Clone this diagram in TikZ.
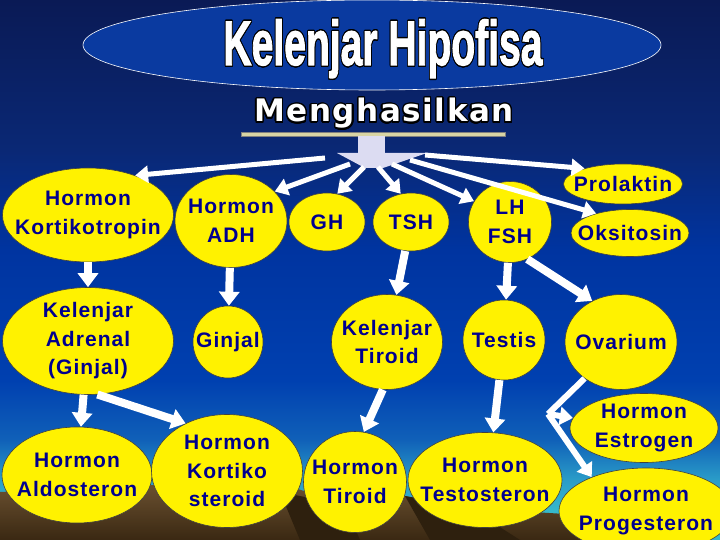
\documentclass[tikz,border=0pt]{standalone}
\usepackage{fontspec}
\setmainfont{Liberation Sans}
\newfontfamily\labelfont{Liberation Sans}[LetterSpace=5]
\newfontfamily\titlefont{Liberation Sans}[FakeBold=2]
\newfontfamily\subfont{DejaVu Sans}[LetterSpace=5]
\usepackage[copies]{contour}
\contourlength{1.3pt}
\contournumber{20}
\usetikzlibrary{shapes.geometric,arrows.meta}

\definecolor{navytext}{HTML}{00008E}
\definecolor{titleblue}{HTML}{0A3AA0}
\definecolor{barfill}{HTML}{D8D4A4}
\definecolor{hubfill}{HTML}{DCDCF2}
\definecolor{skytop}{HTML}{0A1A55}
\definecolor{skyhi}{HTML}{0A2875}
\definecolor{skymid}{HTML}{0034A0}
\definecolor{skydeep}{HTML}{0040B0}
\definecolor{skylow}{HTML}{1060B8}
\definecolor{skyrim}{HTML}{2A9CC8}
\definecolor{horizon}{HTML}{35B8CC}
\definecolor{groundhi}{HTML}{6A5030}
\definecolor{groundlo}{HTML}{3A2812}
\definecolor{grounddk}{HTML}{2E200E}

\pgfdeclareverticalshading{sky}{100bp}{color(0bp)=(horizon); color(27.8bp)=(horizon);
  color(30.6bp)=(skyrim); color(34.3bp)=(skylow); color(39.8bp)=(skydeep);
  color(51.9bp)=(skymid); color(61.1bp)=(skyhi); color(75bp)=(skytop); color(100bp)=(skytop)}

\begin{document}
\begin{tikzpicture}[x=1pt, y=-1pt,
        gland/.style={ellipse, draw=black!75, line width=0.6pt, fill=yellow, text=navytext,
                      inner sep=-30pt, align=center,
                      font=\labelfont\bfseries\fontsize{21}{28.5}\selectfont},
        ovalsize/.style 2 args={minimum width=#1pt, minimum height=#2pt},
        flow/.style={draw=white, line width=5pt, -{Triangle[length=13pt,width=17pt]}},
        bigflow/.style={draw=white, line width=8pt, -{Triangle[length=14pt,width=20pt]}},
        branch/.style={draw=white, line width=6pt, line join=miter}
    ]
        \useasboundingbox (0,0) rectangle (720,540);
        % === Background ===
        \shade[shading=sky] (0,0) rectangle (720,540);
        \shade[top color=groundhi, bottom color=groundlo] (0,492) -- (150,485) -- (295,488) -- (345,505)
            -- (405,496) -- (470,508) -- (565,514) -- (605,540) -- (0,540) -- cycle;
        \fill[grounddk] (280,492) -- (345,505) -- (360,540) -- (300,540) -- cycle;
        \fill[grounddk] (405,496) -- (470,508) -- (520,540) -- (430,540) -- cycle;

        % === Title ===
        \node[ellipse, draw=white, line width=0.6pt, fill=titleblue, inner sep=0pt, ovalsize={578}{90}] (TB) at (372,45) {};
        \node[anchor=base, text=white, font=\titlefont\bfseries\fontsize{63}{63}\selectfont] (T) at (383,65)
            {\scalebox{0.62}[1]{\contour{black}{Kelenjar Hipofisa}}};
        \node[anchor=base, text=white, font=\subfont\bfseries\fontsize{31}{31}\selectfont] (M) at (384,122)
            {\contour{black}{Menghasilkan}};
        \draw[fill=barfill, draw=black!50] (241,132) rectangle (505,136);
        \fill[hubfill] (358,136) rectangle (385,154);
        \fill[hubfill] (337,153) -- (427,153) -- (383,168) -- (365,168) -- cycle;
        \coordinate (h1) at (325,158);
        \coordinate (h2) at (350,164);
        \coordinate (h3) at (364,167);
        \coordinate (h4) at (378,167);
        \coordinate (h5) at (392,164);
        \coordinate (h6) at (410,160);
        \coordinate (h7) at (425,155);

        % === Level 1 ===
        \node[gland, ovalsize={171}{94}] (ACTH) at (88,215) {Hormon\\Kortikotropin};
        \node[gland, ovalsize={112}{93}] (ADH) at (231,221) {Hormon\\ADH};
        \node[gland, ovalsize={76}{58}] (GH) at (327,222) {GH};
        \node[gland, ovalsize={76}{58}] (TSH) at (411,222) {TSH};
        \node[gland, ovalsize={83}{81}] (LHFSH) at (510,222) {LH\\FSH};
        \node[gland, ovalsize={119}{40}] (PRL) at (623,184) {Prolaktin};
        \node[gland, ovalsize={118}{47}] (OXT) at (630,233) {Oksitosin};
        \draw[flow] (h1) -- (ACTH.40);
        \draw[flow] (h2) -- (ADH.34);
        \draw[flow] (h3) -- (GH.70);
        \draw[flow] (h4) -- (TSH.110);
        \draw[flow] (h5) -- (LHFSH.150);
        \draw[flow] (h6) -- (OXT.150);
        \draw[flow] (h7) -- (PRL.158);

        % === Level 2 ===
        \node[gland, ovalsize={171}{107}] (ADR) at (88,341) {Kelenjar\\Adrenal\\(Ginjal)};
        \node[gland, ovalsize={70}{72}] (GIN) at (228,342) {Ginjal};
        \node[gland, ovalsize={111}{95}] (TIR) at (387,342) {Kelenjar\\Tiroid};
        \node[gland, ovalsize={82}{80}] (TES) at (504,340) {Testis};
        \node[gland, ovalsize={112}{95}] (OVA) at (621,342) {Ovarium};
        \draw[bigflow] (ACTH) -- (ADR);
        \draw[bigflow] (ADH) -- (GIN);
        \draw[bigflow] (TSH) -- (TIR);
        \draw[bigflow] (LHFSH) -- (TES);
        \draw[bigflow] (LHFSH.-65) -- (OVA.125);

        % === Level 3 ===
        \node[gland, ovalsize={150}{96}] (ALD) at (77,475) {Hormon\\Aldosteron};
        \node[gland, ovalsize={151}{113}] (KST) at (227,471) {Hormon\\Kortiko\\steroid};
        \node[gland, ovalsize={103}{101}] (HTI) at (355,482) {Hormon\\Tiroid};
        \node[gland, ovalsize={154}{95}] (HTE) at (485,480) {Hormon\\Testosteron};
        \node[gland, ovalsize={148}{69}] (EST) at (644,428) {Hormon\\Estrogen};
        \node[gland, ovalsize={174}{86}] (PRO) at (646,511) {Hormon\\Progesteron};
        \draw[bigflow] (ADR) -- (ALD);
        \draw[bigflow] (ADR.-80) -- (KST.131);
        \draw[bigflow] (TIR.-95) -- (HTI.80);
        \draw[bigflow] (TES) -- (HTE.80);
        \coordinate (bend) at (548,414);
        \draw[branch] (OVA.-135) -- (bend);
        \draw[branch, -{Triangle[length=13pt,width=18pt]}] (bend) -- (EST.172);
        \draw[branch, -{Triangle[length=13pt,width=18pt]}] (bend) -- (PRO.148);
    \end{tikzpicture}
\end{document}
